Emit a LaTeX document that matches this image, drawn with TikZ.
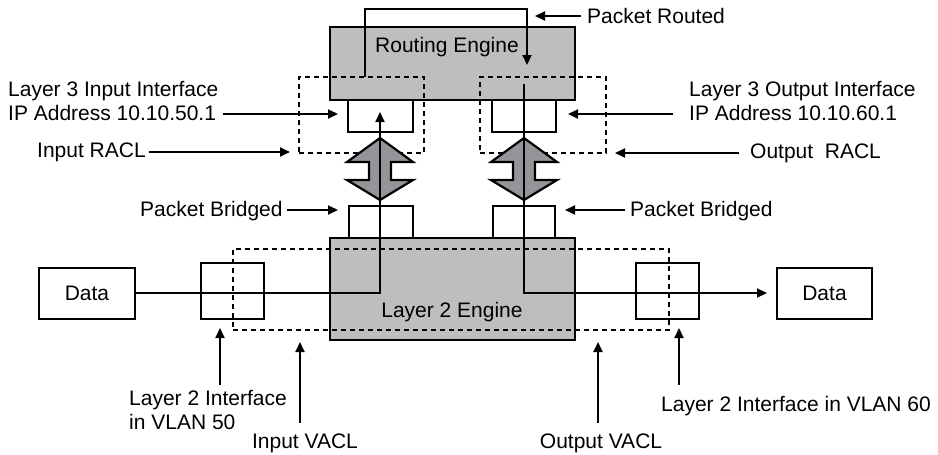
\documentclass[tikz,border=0pt]{standalone}
\usepackage{fontspec}
\setmainfont{Liberation Sans}
\usetikzlibrary{arrows.meta}
\definecolor{enggray}{HTML}{BCBEC0}
\definecolor{arrgray}{HTML}{939598}
\begin{document}
\begin{tikzpicture}[x=1pt,y=-1pt,
  box/.style={draw, line width=2.2pt, inner sep=0pt, fill=white},
  engine/.style={draw, line width=2.2pt, inner sep=0pt, fill=enggray},
  dbox/.style={draw, dash pattern=on 5pt off 4pt, line width=2.2pt, inner sep=0pt},
  flow/.style={line width=2.2pt},
  lbl/.style={font=\fontsize{21}{23.5}\selectfont, inner sep=0pt, text=black},
  pt/.style={line width=2pt, -{Triangle[length=10pt,width=9pt]}},
  dbl/.style={draw, line width=2.2pt, fill=arrgray, line join=miter}
]
\useasboundingbox[fill=white] (0,0) rectangle (938,455);

% Routing engine
\node[engine, minimum width=245pt, minimum height=73pt] (re) at (452.5,63.5) {};
\node[lbl] (retxt) at (447,47) {Routing Engine};
% L3 interface boxes
\node[box, minimum width=65pt, minimum height=32pt] (l3in) at (380.5,116) {};
\node[box, minimum width=64pt, minimum height=32pt] (l3out) at (524,116) {};
% RACL dashed boxes
\node[dbox, minimum width=125pt, minimum height=76pt] (racli) at (361.5,115) {};
\node[dbox, minimum width=126pt, minimum height=76pt] (raclo) at (543,115) {};

% double arrows
\foreach \c in {380, 524}{
  \draw[dbl] (\c,138) -- (\c+33,162) -- (\c+11,162) -- (\c+11,180) -- (\c+33,180)
    -- (\c,200) -- (\c-33,180) -- (\c-11,180) -- (\c-11,162) -- (\c-33,162) -- cycle;
}

% bridge boxes
\node[box, minimum width=64pt, minimum height=32pt] (bri) at (381,222) {};
\node[box, minimum width=62pt, minimum height=32pt] (bro) at (524,222) {};

% Layer 2 engine
\node[engine, minimum width=245pt, minimum height=102pt] (l2) at (452.5,289) {};
\node[lbl] (l2txt) at (452,312) {Layer 2 Engine};

% Data boxes
\node[box, minimum width=96pt, minimum height=51pt, lbl] (dl) at (87,293.5) {Data};
\node[box, minimum width=95pt, minimum height=51pt, lbl] (dr) at (824.5,293.5) {Data};
% interface boxes
\node[box, minimum width=63pt, minimum height=56pt] (ifl) at (232.5,291) {};
\node[box, minimum width=63pt, minimum height=56pt] (ifr) at (667.5,291) {};
% VACL dashed box
\node[dbox, minimum width=436pt, minimum height=81pt] (vacl) at (451,289.5) {};

% flow lines
\coordinate (inup) at (380,112);
\coordinate (incorner) at (380,293);
\draw[flow, -{Triangle[length=10pt,width=9pt]}] (dl.east |- 0,293) -- (incorner) -- (inup);
\coordinate (loopa) at (365,77);
\coordinate (loopb) at (365,9);
\coordinate (loopc) at (527,9);
\coordinate (loopd) at (527,65);
\draw[flow, -{Triangle[length=10pt,width=9pt]}] (loopa) -- (loopb) -- (loopc) -- (loopd);
\coordinate (outtop) at (524,84);
\coordinate (outcorner) at (524,293);
\coordinate (outend) at (767,293);
\draw[flow, -{Triangle[length=10pt,width=9pt]}] (outtop) -- (outcorner) -- (outend);

% labels
\node[lbl, anchor=west, align=left] (l3il) at (8,101) {Layer 3 Input Interface\\IP Address 10.10.50.1};
\draw[pt] (223,114) -- (338,114);
\node[lbl, anchor=west] (iracl) at (37,152) {Input RACL};
\draw[pt] (iracl.east) ++(3,0) -- (290,152);
\node[lbl, anchor=west] (pbl) at (140,211) {Packet Bridged};
\draw[pt] (287,210) -- (338,210);

\node[lbl, anchor=west, align=left] (l3ol) at (689,101) {Layer 3 Output Interface\\IP Address 10.10.60.1};
\draw[pt] (673,114) -- (568,114);
\node[lbl, anchor=west] (oracl) at (750,153) {Output\ \ RACL};
\draw[pt] (739,153) -- (615,153);
\node[lbl, anchor=west] (pbr) at (630,211) {Packet Bridged};
\draw[pt] (625,210) -- (565,210);
\node[lbl, anchor=west] (prt) at (587,16) {Packet Routed};
\draw[pt] (581,16) -- (535,16);

\node[lbl, anchor=west, align=left] (if50) at (129,410) {Layer 2 Interface\\in VLAN 50};
\draw[pt] (220,385) -- (220,328);
\node[lbl] (ivacl) at (305,443) {Input VACL};
\draw[pt] (300,423) -- (300,342);
\node[lbl] (ovacl) at (601,443) {Output VACL};
\draw[pt] (598,423) -- (598,342);
\node[lbl, anchor=west] (if60) at (661,406) {Layer 2 Interface in VLAN 60};
\draw[pt] (679,385) -- (679,328);
\end{tikzpicture}
\end{document}
